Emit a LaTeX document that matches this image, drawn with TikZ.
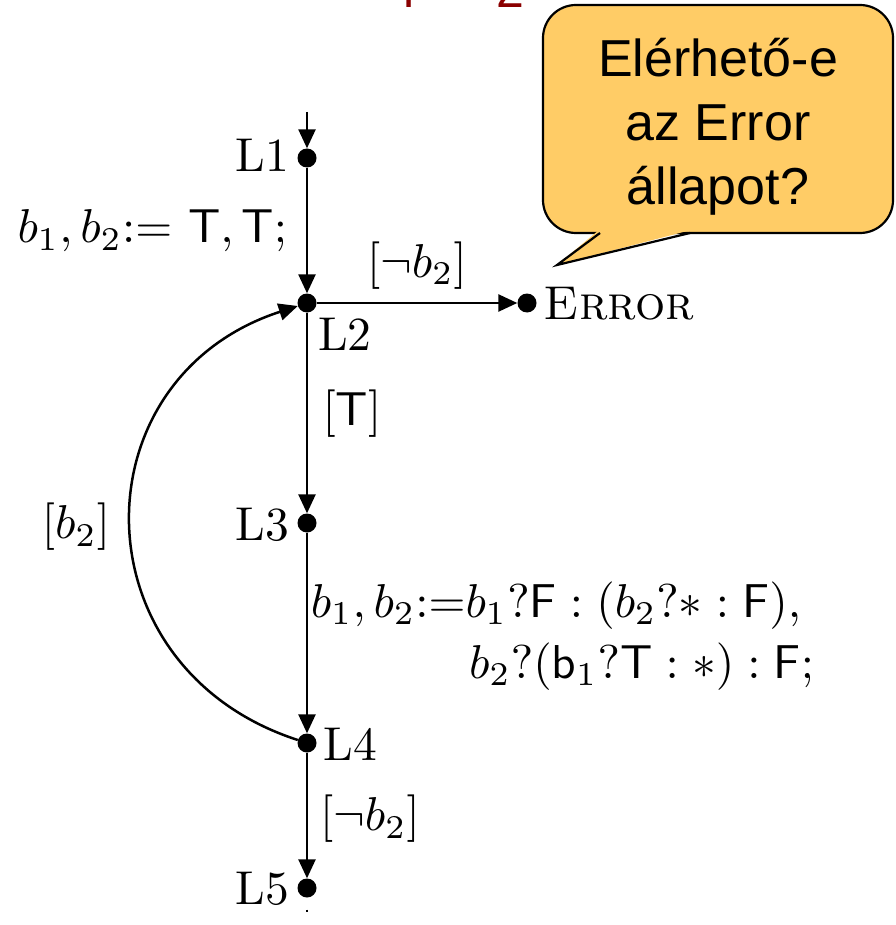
\RequirePackage{fix-cm}
\documentclass[tikz,border=0pt]{standalone}
\usepackage{fontspec}
\usetikzlibrary{arrows.meta}
\newfontfamily\calloutfont{Liberation Sans}
\definecolor{callfill}{HTML}{FFCC66}
\definecolor{titlered}{HTML}{8B0000}
\begin{document}
\begin{tikzpicture}[x=1pt,y=1pt,
  loc/.style={circle,fill=black,inner sep=0pt,minimum size=19pt},
  lbl/.style={font=\normalsize,inner sep=0pt,scale=4.75,transform shape},
  edge/.style={line width=2.5pt,-{Triangle[length=19pt,width=17pt]}},
]
\useasboundingbox (0,0) rectangle (895,-925);

% title fragment (cut off at the top)
\begin{scope}
\clip (0,0) rectangle (895,-9);
\node[font=\calloutfont\fontsize{50}{60}\selectfont,text=titlered,inner sep=0pt,anchor=base] (tA) at (409,-8) {l};
\node[font=\calloutfont\fontsize{50}{60}\selectfont,text=titlered,inner sep=0pt,anchor=base] (tB) at (510,-8) {2};
\end{scope}

% callout
\draw[fill=callfill,line width=2.2pt,rounded corners=33pt] (543,-5) rectangle (893,-233);
\fill[callfill] (599,-230) -- (557,-265) -- (691,-230) -- cycle;
\draw[line width=2.2pt,line join=miter] (600,-233) -- (557,-265) -- (690,-233);
\node[font=\calloutfont\fontsize{52}{64}\selectfont,align=center,inner sep=0pt] (callout) at (718,-127) {Elérhető-e\\az Error\\állapot?};

% locations
\coordinate (top) at (307,-112);
\node[loc] (L1) at (307,-158) {};
\node[loc] (L2) at (307,-303) {};
\node[loc] (L3) at (307,-523) {};
\node[loc] (L4) at (307,-743) {};
\node[loc] (L5) at (307,-888) {};
\node[loc] (E) at (527,-303) {};
\coordinate (bot) at (307,-932);

% location labels
\node[lbl,anchor=east] (tL1) at (290,-155) {L1};
\node[lbl] (tL2) at (345,-334) {L2};
\node[lbl,anchor=east] (tL3) at (290,-525) {L3};
\node[lbl,anchor=west] (tL4) at (323,-744) {L4};
\node[lbl,anchor=east] (tL5) at (290,-889) {L5};
\node[lbl,anchor=west] (tE) at (543,-304) {\textsc{Error}};

% edges
\draw[edge] (top) -- (L1);
\draw[edge] (L1) -- (L2);
\draw[edge] (L2) -- (E);
\draw[edge] (L2) -- (L3);
\draw[edge] (L3) -- (L4);
\draw[edge] (L4) -- (L5);
\draw[edge] (L4) to[out=162,in=198,looseness=1.38] (L2);
\draw[line width=2pt,dash pattern=on 0pt off 12pt on 2pt off 11pt] (L5.south) -- (bot);

% edge labels
\node[lbl,anchor=base east] (e12) at (288,-243) {$b_1, b_2{:=}\ \mathsf{T}, \mathsf{T};$};
\node[lbl] (e2E) at (417,-266) {$[\neg b_2]$};
\node[lbl] (e23) at (352,-414) {$[\mathsf{T}]$};
\node[lbl,anchor=east] (e42) at (111,-527) {$[b_2]$};
\node[lbl,anchor=base west] (e34a) at (310,-617) {$b_1, b_2{:=}b_1?\mathsf{F} : (b_2?{\ast} : \mathsf{F}),$};
\node[lbl,anchor=base east] (e34b) at (815,-678) {$b_2?(\mathsf{b}_1?\mathsf{T} : \ast) : \mathsf{F};$};
\node[lbl] (e45) at (370,-819) {$[\neg b_2]$};
\end{tikzpicture}
\end{document}
